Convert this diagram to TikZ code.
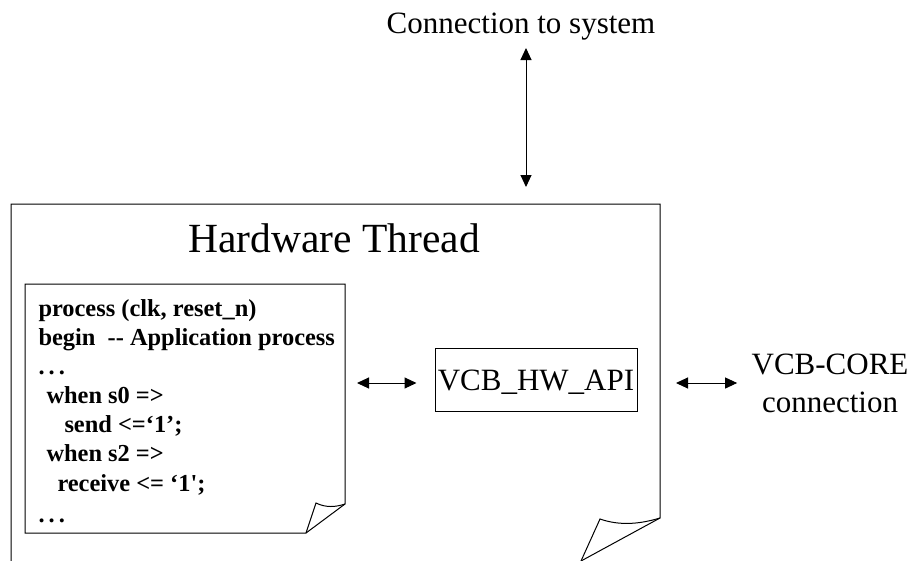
\documentclass[tikz,border=0pt]{standalone}
\usepackage{fontspec}
\setmainfont{Liberation Serif}
\usetikzlibrary{arrows.meta}
\begin{document}
\begin{tikzpicture}[x=1pt,y=-1pt,line width=1pt,
  label31/.style={inner sep=0pt,anchor=base,font=\fontsize{31}{36}\selectfont},
  codeline/.style={inner sep=0pt,anchor=base west,font=\fontsize{24.4}{29}\selectfont\bfseries},
  apibox/.style={draw,inner sep=0pt,minimum width=202pt,minimum height=63pt,
    text height=21pt,text depth=0pt,font=\fontsize{31}{36}\selectfont},
  link/.style={{Triangle[length=12pt,width=11pt]}-{Triangle[length=12pt,width=11pt]}}]
\useasboundingbox (0,0) rectangle (912,560);
\begin{scope}
\clip (0,0) rectangle (912,560);
% hardware thread page with a curled lower corner
\draw (11,575) -- (11,204) -- (660,204) -- (660,518) -- (581,561);
\draw (581,561) -- (600,519) .. controls (620,526) and (640,524) .. (660,518);
\end{scope}
\coordinate (threadTop) at (526,204);
\coordinate (threadRight) at (660,383);

% code sheet
\draw (25,533) -- (25,284) -- (345,284) -- (345,504) -- (306,533) -- cycle;
\draw (306,533) -- (316,503) .. controls (326,508) and (336,507) .. (345,504);
\coordinate (codeRight) at (345,383);

\node[label31] (sys) at (521,33) {Connection to system};
\node[label31,font=\fontsize{41.5}{48}\selectfont] (title) at (334,252) {Hardware Thread};

\node[codeline] (c1) at (38,316) {process (clk, reset\_n)};
\node[codeline] (c2) at (38,345) {begin \ -{}- Application process};
\node[codeline] (c3) at (38,374) {.\,.\,.};
\node[codeline] (c4) at (46,403) {when s0 =>};
\node[codeline] (c5) at (64,432) {send <=‘1’;};
\node[codeline] (c6) at (46,461) {when s2 =>};
\node[codeline] (c7) at (57,491) {receive <= ‘1\textquotesingle;};
\node[codeline] (c8) at (38,522) {.\,.\,.};

\node[apibox] (api) at (536,379.5) {VCB\_HW\_API};

\node[label31] (core) at (830,374) {VCB-CORE};
\node[label31] (conn) at (830,412) {connection};

\draw[link] ([yshift=-15pt]sys.base -| threadTop) -- ([yshift=17pt]threadTop);
\draw[link] ([xshift=12pt]codeRight) -- ([xshift=-18pt]api.west |- codeRight);
\draw[link] ([xshift=16pt]threadRight) -- ([xshift=-14pt]core.west |- threadRight);
\end{tikzpicture}
\end{document}
